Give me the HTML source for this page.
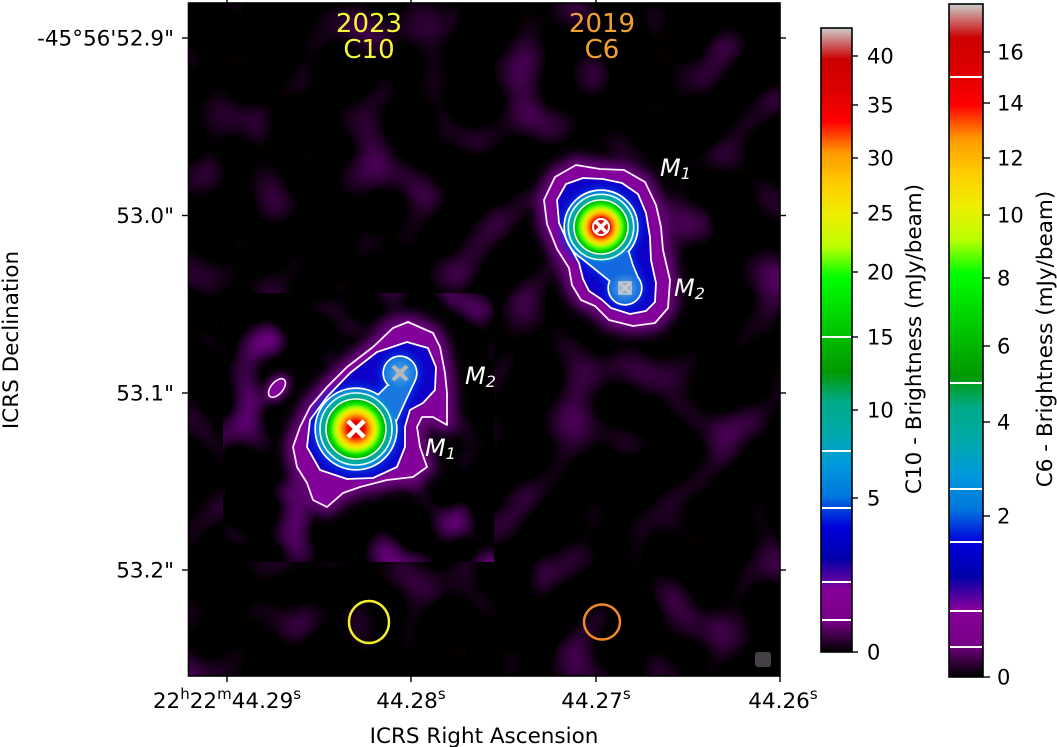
<!DOCTYPE html>
<html><head><meta charset="utf-8"><style>
html,body{margin:0;padding:0;background:#fff;}
svg{display:block;}
text{font-family:"DejaVu Sans","Liberation Sans",sans-serif;}
</style></head><body>
<svg width="1057" height="747" viewBox="0 0 1057 747" xmlns="http://www.w3.org/2000/svg">
<defs>
<linearGradient id="ns" x1="0" y1="1" x2="0" y2="0">
 <stop offset="0" stop-color="#000000"/><stop offset="0.05" stop-color="#770088"/><stop offset="0.10" stop-color="#880099"/>
 <stop offset="0.15" stop-color="#0000aa"/><stop offset="0.20" stop-color="#0000dd"/><stop offset="0.25" stop-color="#0077dd"/>
 <stop offset="0.30" stop-color="#0099dd"/><stop offset="0.35" stop-color="#00aaaa"/><stop offset="0.40" stop-color="#00aa88"/>
 <stop offset="0.45" stop-color="#009900"/><stop offset="0.50" stop-color="#00bb00"/><stop offset="0.55" stop-color="#00dd00"/>
 <stop offset="0.60" stop-color="#00ff00"/><stop offset="0.65" stop-color="#bbff00"/><stop offset="0.70" stop-color="#eeee00"/>
 <stop offset="0.75" stop-color="#ffcc00"/><stop offset="0.80" stop-color="#ff9900"/><stop offset="0.85" stop-color="#ff0000"/>
 <stop offset="0.90" stop-color="#dd0000"/><stop offset="0.95" stop-color="#cc0000"/><stop offset="1" stop-color="#cccccc"/>
</linearGradient>
<radialGradient id="gA" gradientUnits="userSpaceOnUse" cx="356" cy="429" r="40">
 <stop offset="0" stop-color="#dd0000"/><stop offset="0.2" stop-color="#ee0000"/><stop offset="0.3" stop-color="#ff6600"/>
 <stop offset="0.4" stop-color="#ffcc00"/><stop offset="0.48" stop-color="#e8f000"/><stop offset="0.56" stop-color="#80ff00"/>
 <stop offset="0.64" stop-color="#00e000"/><stop offset="0.74" stop-color="#00b000"/><stop offset="0.76" stop-color="#00a888"/>
 <stop offset="0.88" stop-color="#00a8b0"/><stop offset="0.9" stop-color="#0098d0"/><stop offset="1" stop-color="#1080e0"/>
</radialGradient>
<radialGradient id="gB" gradientUnits="userSpaceOnUse" cx="601" cy="227" r="36">
 <stop offset="0" stop-color="#dd0000"/><stop offset="0.25" stop-color="#ee0000"/><stop offset="0.33" stop-color="#ff7000"/>
 <stop offset="0.42" stop-color="#ffd000"/><stop offset="0.5" stop-color="#d8f000"/><stop offset="0.58" stop-color="#60ff00"/>
 <stop offset="0.66" stop-color="#00dd00"/><stop offset="0.74" stop-color="#00b000"/><stop offset="0.76" stop-color="#00a890"/>
 <stop offset="0.9" stop-color="#00a8b0"/><stop offset="0.92" stop-color="#0090d0"/><stop offset="1" stop-color="#1070e0"/>
</radialGradient>
<radialGradient id="gA2" gradientUnits="userSpaceOnUse" cx="400" cy="373" r="16">
 <stop offset="0" stop-color="#70b0e0"/><stop offset="0.5" stop-color="#3090e0"/><stop offset="1" stop-color="#1078e0"/>
</radialGradient>
<radialGradient id="gB2" gradientUnits="userSpaceOnUse" cx="625" cy="288" r="16">
 <stop offset="0" stop-color="#a0b8d8"/><stop offset="0.4" stop-color="#4090e0"/><stop offset="1" stop-color="#1068e0"/>
</radialGradient>
<filter id="nO" filterUnits="userSpaceOnUse" x="188" y="3" width="592" height="673" color-interpolation-filters="sRGB">
 <feTurbulence type="fractalNoise" baseFrequency="0.02" numOctaves="1" seed="7"/>
 <feColorMatrix type="matrix" values="1.2 0 0 0 -0.64  0 0 0 0 0  1.4 0 0 0 -0.75  0 0 0 0 1"/>
</filter>
<filter id="nI" filterUnits="userSpaceOnUse" x="223" y="293" width="271" height="269" color-interpolation-filters="sRGB">
 <feTurbulence type="fractalNoise" baseFrequency="0.022" numOctaves="1" seed="3"/>
 <feColorMatrix type="matrix" values="2.0 0 0 0 -1.06  0 0 0 0 0  2.4 0 0 0 -1.27  0 0 0 0 1"/>
</filter>
<filter id="b6" x="-40%" y="-40%" width="180%" height="180%"><feGaussianBlur stdDeviation="6"/></filter>
<filter id="b4" x="-40%" y="-40%" width="180%" height="180%"><feGaussianBlur stdDeviation="4"/></filter>
<filter id="b1" x="-20%" y="-20%" width="140%" height="140%"><feGaussianBlur stdDeviation="1.2"/></filter>
</defs>

<rect width="1057" height="747" fill="#fff"/>
<rect x="188" y="3" width="592" height="673" fill="#000"/>
<rect x="188" y="3" width="592" height="673" fill="#000" filter="url(#nO)"/>
<rect x="223" y="293" width="271" height="269" fill="#000"/>
<rect x="223" y="293" width="271" height="269" fill="#000" filter="url(#nI)"/>

<!-- C10 source -->
<polygon points="408,322 433,333 440,347 445,373 447,393 447,425 433,417 422,417 417,427 420,447 427,467 413,477 387,480 360,487 343,493 327,507 313,500 307,483 297,467 293,447 300,427 310,407 327,387 347,367 373,347 393,328" fill="#6c0080" stroke="#6c0080" stroke-width="18" stroke-linejoin="round" filter="url(#b6)"/>
<ellipse cx="277" cy="388" rx="16" ry="11" transform="rotate(-50 277 388)" fill="#6c0080" filter="url(#b4)"/>
<polygon points="408,322 433,333 440,347 445,373 447,393 447,425 433,417 422,417 417,427 420,447 427,467 413,477 387,480 360,487 343,493 327,507 313,500 307,483 297,467 293,447 300,427 310,407 327,387 347,367 373,347 393,328" fill="#84009a"/>
<polygon points="407,342 428,348 436,367 435,390 423,403 410,410 405,427 405,447 397,467 373,478 347,479 320,470 307,447 310,420 327,397 350,373 377,352" fill="#0a06c8" filter="url(#b1)"/>
<g filter="url(#b4)" fill="#0030e0" stroke="#0030e0" stroke-width="10" stroke-linejoin="round">
 <circle cx="356" cy="429" r="40"/><circle cx="400" cy="373" r="16"/><polygon points="378,396 388,386 414,381 405,400 396,420"/>
</g>
<g fill="#fff" stroke="#fff" stroke-width="3.4" stroke-linejoin="round">
 <circle cx="356" cy="429" r="40"/><circle cx="400" cy="373" r="16"/><polygon points="378,396 388,386 414,381 405,400 396,420"/>
</g>
<polygon points="378,396 388,386 414,381 405,400 396,420" fill="#1878e0"/>
<circle cx="400" cy="373" r="16" fill="url(#gA2)"/>
<circle cx="356" cy="429" r="40" fill="url(#gA)"/>
<circle cx="356" cy="429" r="36" fill="none" stroke="#e8ffff" stroke-width="1.6"/>
<circle cx="356" cy="429" r="30" fill="none" stroke="#f0fff0" stroke-width="1.6"/>
<polygon points="408,322 433,333 440,347 445,373 447,393 447,425 433,417 422,417 417,427 420,447 427,467 413,477 387,480 360,487 343,493 327,507 313,500 307,483 297,467 293,447 300,427 310,407 327,387 347,367 373,347 393,328" fill="none" stroke="#fff0ff" stroke-width="1.8" stroke-linejoin="round"/>
<polygon points="407,342 428,348 436,367 435,390 423,403 410,410 405,427 405,447 397,467 373,478 347,479 320,470 307,447 310,420 327,397 350,373 377,352" fill="none" stroke="#fff" stroke-width="1.8" stroke-linejoin="round"/>
<ellipse cx="277" cy="388" rx="11" ry="6" transform="rotate(-50 277 388)" fill="#84009a" stroke="#fff0ff" stroke-width="1.6"/>
<g stroke="#fff" stroke-width="4.5"><line x1="348" y1="421" x2="364" y2="437"/><line x1="364" y1="421" x2="348" y2="437"/></g>
<g stroke="#b8b8b8" stroke-width="4"><line x1="393" y1="366" x2="407" y2="380"/><line x1="407" y1="366" x2="393" y2="380"/></g>

<!-- C6 source -->
<polygon points="576,165 600,169 624,170 645,182 656,205 661,227 663,250 670,280 668,308 655,323 633,326 609,320 595,306 581,300 572,285 569,268 557,249 547,224 544,200 555,177" fill="#6c0080" stroke="#6c0080" stroke-width="18" stroke-linejoin="round" filter="url(#b6)"/>
<polygon points="576,165 600,169 624,170 645,182 656,205 661,227 663,250 670,280 668,308 655,323 633,326 609,320 595,306 581,300 572,285 569,268 557,249 547,224 544,200 555,177" fill="#84009a"/>
<polygon points="583,178 603,179 622,183 638,194 646,213 650,237 651,260 656,283 655,302 646,311 630,314 611,308 601,299 589,291 583,279 579,263 568,243 559,223 557,200 566,184" fill="#0a06c8" filter="url(#b1)"/>
<g filter="url(#b4)" fill="#0030e0" stroke="#0030e0" stroke-width="8" stroke-linejoin="round">
 <circle cx="601" cy="227" r="36"/><circle cx="625" cy="288" r="16"/><polygon points="580,256 628,252 632,265 637,277 611,281"/>
</g>
<g fill="#fff" stroke="#fff" stroke-width="3.4" stroke-linejoin="round">
 <circle cx="601" cy="227" r="36"/><circle cx="625" cy="288" r="16"/><polygon points="580,256 628,252 632,265 637,277 611,281"/>
</g>
<polygon points="580,256 628,252 632,265 637,277 611,281" fill="#1468e0"/>
<circle cx="625" cy="288" r="16" fill="url(#gB2)"/>
<circle cx="601" cy="227" r="36" fill="url(#gB)"/>
<circle cx="601" cy="227" r="32.7" fill="none" stroke="#e8ffff" stroke-width="1.6"/>
<circle cx="601" cy="227" r="27" fill="none" stroke="#f0fff0" stroke-width="1.6"/>
<polygon points="576,165 600,169 624,170 645,182 656,205 661,227 663,250 670,280 668,308 655,323 633,326 609,320 595,306 581,300 572,285 569,268 557,249 547,224 544,200 555,177" fill="none" stroke="#fff0ff" stroke-width="1.8" stroke-linejoin="round"/>
<polygon points="583,178 603,179 622,183 638,194 646,213 650,237 651,260 656,283 655,302 646,311 630,314 611,308 601,299 589,291 583,279 579,263 568,243 559,223 557,200 566,184" fill="none" stroke="#fff" stroke-width="1.8" stroke-linejoin="round"/>
<circle cx="601" cy="227" r="9" fill="#fff"/>
<circle cx="601" cy="227" r="7" fill="#d01818"/>
<g stroke="#fff" stroke-width="3.5"><line x1="596" y1="222" x2="606" y2="232"/><line x1="606" y1="222" x2="596" y2="232"/></g>
<rect x="619" y="282" width="12" height="12" fill="#8cb0d8" stroke="#c8c8d0" stroke-width="1.5"/>
<g stroke="#c8c4cc" stroke-width="3"><line x1="620" y1="283" x2="630" y2="293"/><line x1="630" y1="283" x2="620" y2="293"/></g>

<!-- M labels -->
<text x="660" y="176" font-size="24" font-style="italic" style="fill:#fff">M<tspan font-size="16" dy="3" style="fill:#fff">1</tspan></text>
<text x="674" y="296" font-size="24" font-style="italic" style="fill:#fff">M<tspan font-size="16" dy="3" style="fill:#fff">2</tspan></text>
<text x="465" y="384" font-size="24" font-style="italic" style="fill:#fff">M<tspan font-size="16" dy="3" style="fill:#fff">2</tspan></text>
<text x="425" y="456" font-size="24" font-style="italic" style="fill:#fff">M<tspan font-size="16" dy="3" style="fill:#fff">1</tspan></text>

<!-- titles -->
<text x="369" y="32" font-size="26" text-anchor="middle" style="fill:#f5f53a">2023</text>
<text x="369" y="58" font-size="26" text-anchor="middle" style="fill:#f5f53a">C10</text>
<text x="602" y="32" font-size="26" text-anchor="middle" style="fill:#f0a030">2019</text>
<text x="602" y="58" font-size="26" text-anchor="middle" style="fill:#f0a030">C6</text>

<!-- beams -->
<ellipse cx="369" cy="622" rx="20" ry="21" fill="none" stroke="#f2ef2a" stroke-width="2.5"/>
<ellipse cx="602" cy="622" rx="18" ry="17.5" fill="none" stroke="#f08a28" stroke-width="2.5"/>
<rect x="755" y="652" width="16" height="15" rx="3" fill="#454045"/>

<!-- frame & ticks -->
<rect x="188.5" y="3" width="591.5" height="673" fill="none" stroke="#000" stroke-width="1.6"/>
<g stroke="#000" stroke-width="1.4">
 <line x1="227" y1="3" x2="227" y2="-3"/><line x1="411" y1="3" x2="411" y2="-3"/><line x1="596" y1="3" x2="596" y2="-3"/>
 <line x1="227" y1="676" x2="227" y2="682"/><line x1="411" y1="676" x2="411" y2="682"/><line x1="596" y1="676" x2="596" y2="682"/><line x1="780" y1="676" x2="780" y2="682"/>
 <line x1="182" y1="38" x2="188" y2="38"/><line x1="182" y1="215.5" x2="188" y2="215.5"/><line x1="182" y1="393" x2="188" y2="393"/><line x1="182" y1="570" x2="188" y2="570"/>
 <line x1="780" y1="38" x2="786" y2="38"/><line x1="780" y1="215.5" x2="786" y2="215.5"/><line x1="780" y1="393" x2="786" y2="393"/><line x1="780" y1="570" x2="786" y2="570"/>
</g>
<g font-size="21.5" text-anchor="end" style="fill:#000">
 <text x="174" y="45.5">-45°56'52.9"</text>
 <text x="174" y="223">53.0"</text>
 <text x="174" y="400.5">53.1"</text>
 <text x="174" y="577.5">53.2"</text>
</g>
<g font-size="21.5" text-anchor="middle" style="fill:#000">
 <text x="227" y="708">22<tspan font-size="15" dy="-9">h</tspan><tspan dy="9">22</tspan><tspan font-size="15" dy="-9">m</tspan><tspan dy="9">44.29</tspan><tspan font-size="15" dy="-9">s</tspan></text>
 <text x="411" y="708">44.28<tspan font-size="15" dy="-9">s</tspan></text>
 <text x="596" y="708">44.27<tspan font-size="15" dy="-9">s</tspan></text>
 <text x="783" y="708">44.26<tspan font-size="15" dy="-9">s</tspan></text>
</g>
<text x="484" y="743" font-size="21.5" text-anchor="middle" style="fill:#000">ICRS Right Ascension</text>
<text transform="translate(18,340) rotate(-90)" font-size="21.5" text-anchor="middle" style="fill:#000">ICRS Declination</text>

<!-- colorbar 1 -->
<rect x="821" y="28" width="31" height="624" fill="url(#ns)"/>
<g stroke="#fff" stroke-width="2">
 <line x1="822" y1="620" x2="851" y2="620"/><line x1="822" y1="582" x2="851" y2="582"/><line x1="822" y1="508" x2="851" y2="508"/>
 <line x1="822" y1="451" x2="851" y2="451"/><line x1="822" y1="337" x2="851" y2="337"/>
</g>
<rect x="821" y="28" width="31" height="624" fill="none" stroke="#000" stroke-width="1.6"/>
<g stroke="#000" stroke-width="1.4">
 <line x1="852" y1="56" x2="858" y2="56"/><line x1="852" y1="105" x2="858" y2="105"/><line x1="852" y1="158" x2="858" y2="158"/>
 <line x1="852" y1="213" x2="858" y2="213"/><line x1="852" y1="272" x2="858" y2="272"/><line x1="852" y1="337" x2="858" y2="337"/>
 <line x1="852" y1="410" x2="858" y2="410"/><line x1="852" y1="498" x2="858" y2="498"/><line x1="852" y1="652" x2="858" y2="652"/>
</g>
<g font-size="21" style="fill:#000">
 <text x="867" y="63.5">40</text><text x="867" y="112.5">35</text><text x="867" y="165.5">30</text><text x="867" y="220.5">25</text>
 <text x="867" y="279.5">20</text><text x="867" y="344.5">15</text><text x="867" y="417.5">10</text><text x="867" y="505.5">5</text><text x="867" y="659.5">0</text>
</g>
<text transform="translate(921,339) rotate(-90)" font-size="21.5" text-anchor="middle" style="fill:#000">C10 - Brightness (mJy/beam)</text>

<!-- colorbar 2 -->
<rect x="949" y="4" width="34" height="673" fill="url(#ns)"/>
<g stroke="#fff" stroke-width="2">
 <line x1="950" y1="77" x2="982" y2="77"/><line x1="950" y1="383" x2="982" y2="383"/><line x1="950" y1="489" x2="982" y2="489"/>
 <line x1="950" y1="542" x2="982" y2="542"/><line x1="950" y1="611" x2="982" y2="611"/><line x1="950" y1="647" x2="982" y2="647"/>
</g>
<rect x="949" y="4" width="34" height="673" fill="none" stroke="#000" stroke-width="1.6"/>
<g stroke="#000" stroke-width="1.4">
 <line x1="983" y1="52" x2="990" y2="52"/><line x1="983" y1="103" x2="990" y2="103"/><line x1="983" y1="158" x2="990" y2="158"/>
 <line x1="983" y1="215" x2="990" y2="215"/><line x1="983" y1="278" x2="990" y2="278"/><line x1="983" y1="346" x2="990" y2="346"/>
 <line x1="983" y1="422" x2="990" y2="422"/><line x1="983" y1="516" x2="990" y2="516"/><line x1="983" y1="677" x2="990" y2="677"/>
</g>
<g font-size="21" style="fill:#000">
 <text x="997" y="59.5">16</text><text x="997" y="110.5">14</text><text x="997" y="165.5">12</text><text x="997" y="222.5">10</text>
 <text x="997" y="285.5">8</text><text x="997" y="353.5">6</text><text x="997" y="429.5">4</text><text x="997" y="523.5">2</text><text x="997" y="684.5">0</text>
</g>
<text transform="translate(1052,339) rotate(-90)" font-size="21.5" text-anchor="middle" style="fill:#000">C6 - Brightness (mJy/beam)</text>
</svg>
</body></html>
